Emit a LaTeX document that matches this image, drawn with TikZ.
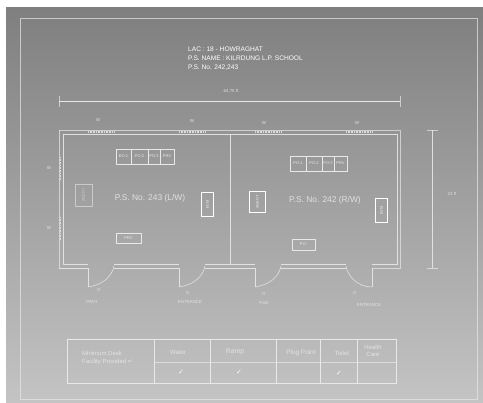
\documentclass[tikz,border=0pt]{standalone}
\usepackage{fontspec}
\setmainfont{Liberation Sans}
\newfontfamily\symfont{DejaVu Sans}
\definecolor{sheettop}{HTML}{7F7F7F}
\definecolor{sheetbot}{HTML}{C4C4C4}
\definecolor{inkline}{HTML}{E8E8E8}
\tikzset{
    wall/.style={draw=inkline, line width=0.8pt, opacity=0.9},
    thinline/.style={draw=inkline, line width=0.5pt, opacity=0.7},
    winmark/.style={draw=inkline, line width=1.9pt, dash pattern=on 1pt off 0.6pt, opacity=0.85},
    furn/.style={draw=inkline, line width=0.6pt, inner sep=0pt, font=\fontsize{4}{4.5}\selectfont, text=inkline},
    tiny/.style={text=inkline, font=\fontsize{4.4}{5}\selectfont, inner sep=0pt, opacity=0.9},
    roomlabel/.style={text=inkline, font=\fontsize{8.4}{10}\selectfont, inner sep=0pt, opacity=0.9},
    headtext/.style={text=white, font=\fontsize{6.6}{9.3}\selectfont, inner sep=0pt, align=left, anchor=north west},
    tabletext/.style={text=inkline, font=\fontsize{6}{7.4}\selectfont, inner sep=0pt, align=center, opacity=0.9},
    tick/.style={text=white, font=\symfont\fontsize{7}{8}\selectfont, inner sep=0pt}
}
\begin{document}
\begin{tikzpicture}[x=1pt, y=-1pt]
    \useasboundingbox (0,0) rectangle (483,403);
    \fill[top color=sheettop, bottom color=sheetbot] (6,8) rectangle (483,403);
    \draw[thinline] (20,18) rectangle (477,399);

    % heading
    \node[headtext] (head) at (188,46.5) {LAC : 18 - HOWRAGHAT\\P.S. NAME : KILRDUNG L.P. SCHOOL\\P.S. No. 242,243};

    % dimensions
    \draw[thinline, opacity=1] (59,101) -- (400,101);
    \draw[thinline] (59,96) -- (59,107) (400,96) -- (400,107);
    \node[tiny] (lenlabel) at (231,91) {64.75 ft};
    \draw[wall] (432,130) -- (432,268);
    \draw[thinline] (427,130) -- (438,130) (427,268) -- (438,268);
    \node[tiny] (widlabel) at (452,194) {24 ft};

    % walls
    \draw[thinline] (59,130) -- (400,130) -- (400,268) -- (372,268);
    \draw[wall] (63,134) -- (397,134) -- (397,264) -- (372,264);
    \draw[wall] (63,134) -- (63,264) -- (88,264);
    \draw[wall] (230.5,134) -- (230.5,264);
    \draw[thinline] (59,130) -- (59,268);
    \draw[wall] (59,268) -- (88,268) -- (88,287);
    \draw[wall] (114,264) -- (179,264) (114,268) -- (179,268) -- (179,287);
    \draw[wall] (205,264) -- (255,264) (205,268) -- (255,268) -- (255,287);
    \draw[wall] (281,264) -- (346,264) (281,268) -- (346,268);
    \draw[wall] (372,287) -- (372,268);

    % door swings
    \draw[thinline, opacity=1] (88,287) .. controls (102,285) and (112,277) .. (114,266);
    \draw[thinline, opacity=1] (179,287) .. controls (193,285) and (203,277) .. (205,266);
    \draw[thinline, opacity=1] (255,287) .. controls (269,285) and (279,277) .. (281,266);
    \draw[thinline, opacity=1] (372,287) .. controls (358,287) and (348,277) .. (346,266);

    % windows
    \foreach \wx in {88,179,255,346}
        \draw[winmark] (\wx,132) -- (\wx+27,132);
    \draw[winmark] (60.5,157) -- (60.5,181);
    \draw[winmark] (60.5,217) -- (60.5,241);

    % side letters
    \node[tiny] (wn1) at (98,120) {W};
    \node[tiny] (wn2) at (192,121) {W};
    \node[tiny] (wn3) at (264,123) {W};
    \node[tiny] (wn4) at (357,123) {W};
    \node[tiny] (wn5) at (49,168) {W};
    \node[tiny] (wn6) at (49,228) {W};
    \node[tiny] (dr1) at (99,290) {D};
    \node[tiny] (dr2) at (188,293) {D};
    \node[tiny] (dr3) at (264,294) {D};
    \node[tiny] (dr4) at (355,293) {D};
    \node[tiny] (doorA) at (92,302) {PATH};
    \node[tiny] (doorB) at (190,302) {ENTRANCE};
    \node[tiny] (doorC) at (264,303) {Path};
    \node[tiny] (doorD) at (369,305) {ENTRANCE};

    % room 243
    \node[roomlabel] (roomL) at (150,198) {P.S. No. 243 (L/W)};
    \foreach \ax/\bx/\txt/\nm in {116/131/EO-1/la,131/148/PO-2/lb,148/160/PO-3/lc,160/174/PRV/ld}
        \node[furn, minimum width=\bx pt-\ax pt, minimum height=15pt] (\nm) at ({(\ax+\bx)/2},156.5) {\txt};
    \node[furn, opacity=0.6, minimum width=17pt, minimum height=22pt, align=center] (lag) at (83.5,195) {\rotatebox{90}{AGENT}};
    \node[furn, double, double distance=0.5pt, minimum width=12pt, minimum height=24pt] (lev) at (207.5,204.5) {\rotatebox{90}{EVM}};
    \node[furn, minimum width=25pt, minimum height=10pt] (lpr) at (128.5,238) {PRC};

    % room 242
    \node[roomlabel] (roomR) at (325,200) {P.S. No. 242 (R/W)};
    \foreach \ax/\bx/\txt/\nm in {290/306/PO-1/ra,306/322/PO-2/rb,322/334/PO-3/rc,334/347/PRV/rd}
        \node[furn, minimum width=\bx pt-\ax pt, minimum height=15pt] (\nm) at ({(\ax+\bx)/2},163.5) {\txt};
    \node[furn, double, double distance=0.4pt, minimum width=16pt, minimum height=21pt] (rag) at (257.5,202) {\rotatebox{90}{AGENT}};
    \node[furn, double, double distance=0.5pt, minimum width=12pt, minimum height=24pt] (rev) at (381.5,210.5) {\rotatebox{90}{EVM}};
    \node[furn, minimum width=23pt, minimum height=11pt] (rpr) at (303.5,244.5) {P.O.};

    % facility table
    \draw[thinline, opacity=1, line width=0.7pt] (67,339) rectangle (396,383);
    \foreach \cx in {154,210,276,320,357}
        \draw[thinline, opacity=1, line width=0.7pt] (\cx,339) -- (\cx,383);
    \draw[thinline] (154,362) -- (396,362);
    \node[tabletext, align=left, anchor=west] (factitle) at (82,358) {Minimum Desk\\Facility Provided {\symfont ↵}};
    \node[tabletext] (water) at (178,352) {Water};
    \node[tabletext, font=\fontsize{6.8}{7}\selectfont] (ramp) at (235,352) {Ramp};
    \node[tabletext, font=\fontsize{6.4}{7}\selectfont] (plug) at (301,353) {Plug Point};
    \node[tabletext] (toilet) at (342,353) {Toilet};
    \node[tabletext] (health) at (373,351) {Health\\Care};
    \node[tick] (chk1) at (181,372) {✓};
    \node[tick] (chk2) at (239,372) {✓};
    \node[tick] (chk3) at (339,373) {✓};
\end{tikzpicture}
\end{document}
